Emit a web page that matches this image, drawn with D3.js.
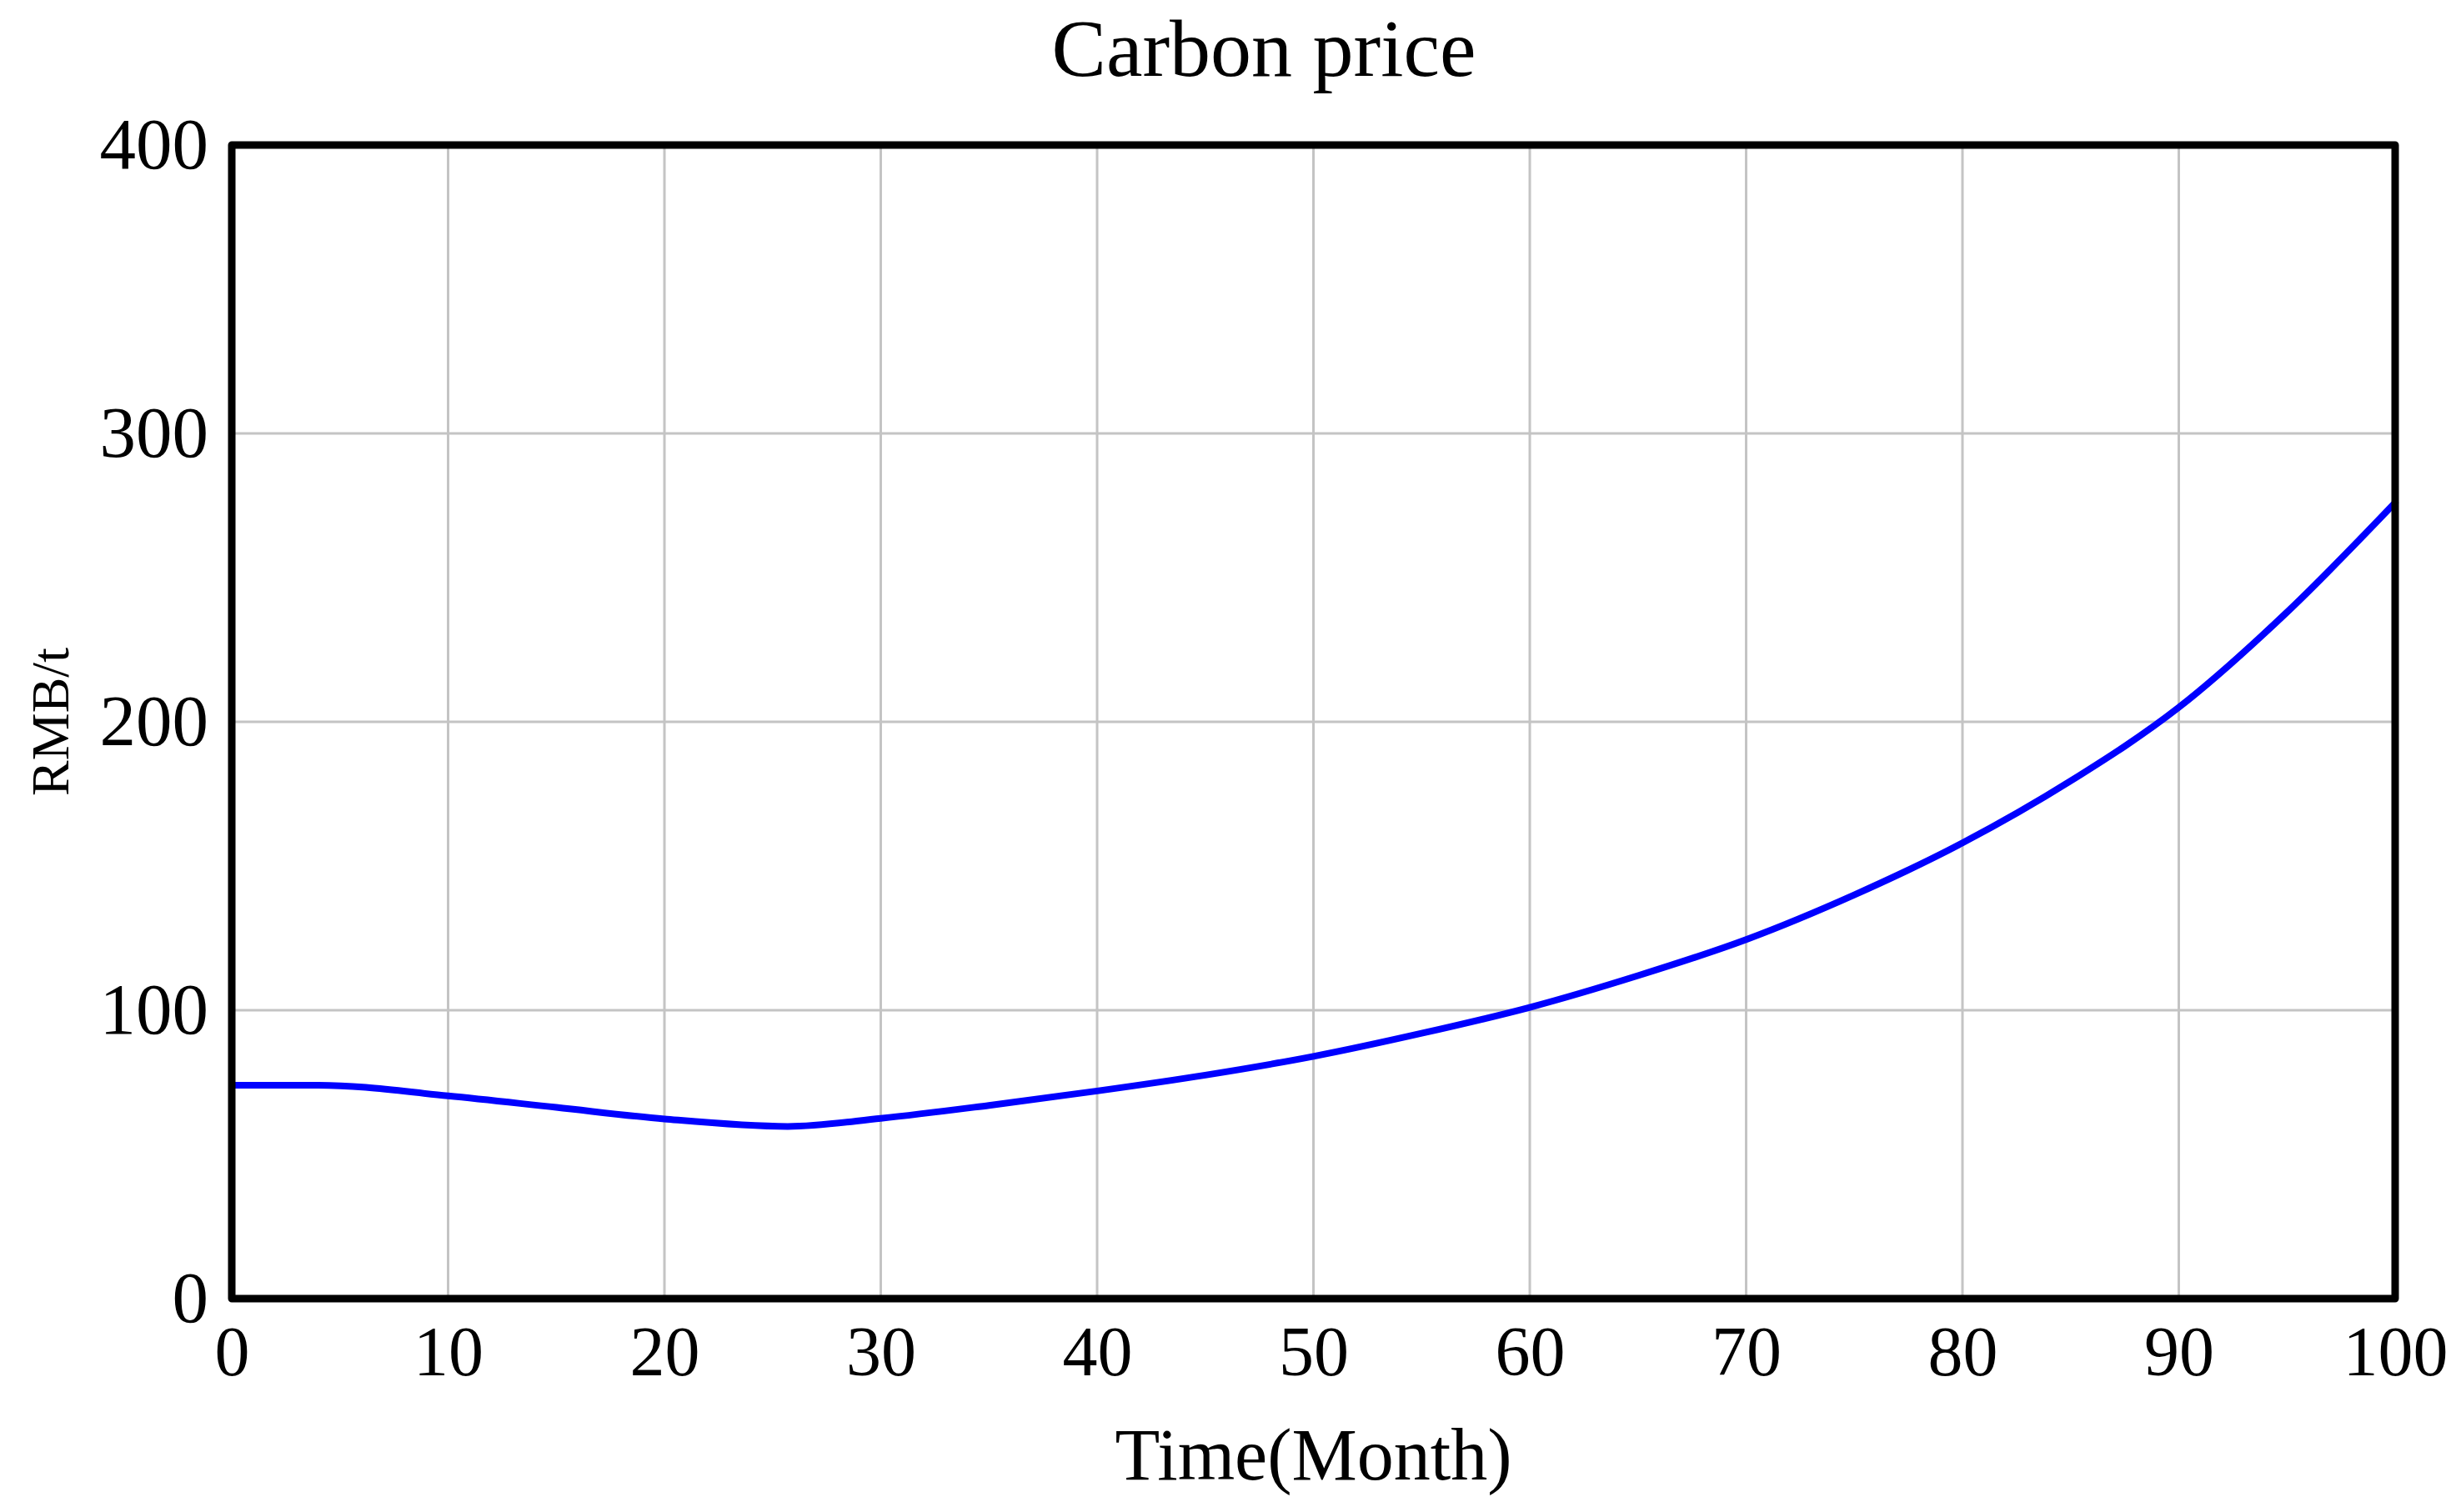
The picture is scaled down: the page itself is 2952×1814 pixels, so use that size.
<!DOCTYPE html>
<html>
<head>
<meta charset="utf-8">
<script src="https://cdn.jsdelivr.net/npm/d3@7"></script>
<style>
  html, body { margin: 0; padding: 0; background: #fff; }
  svg { display: block; }
  text { font-family: "Liberation Serif", "Times New Roman", serif; fill: #000; }
</style>
</head>
<body>
<svg id="chart" width="2952" height="1814"></svg>
<script>
// ---- data ----
const titleText = "Carbon price";
const xLabel = "Time(Month)";
const yLabel = "RMB/t";
const time  = [0, 4, 10, 15, 20, 25.7, 30, 35, 40, 45, 50, 55, 60, 65, 70, 75, 80, 85, 90, 95, 100];
const price = [74, 74, 70.3, 66.3, 62.3, 59.7, 62.5, 67, 72, 77.5, 84, 92, 101, 112, 124.5, 140, 158, 179.5, 205, 238, 276];
const xTicks = [0, 10, 20, 30, 40, 50, 60, 70, 80, 90, 100];
const yTicks = [0, 100, 200, 300, 400];

// ---- layout ----
const svg = d3.select("#chart");
const pL = 278, pR = 2873, pT = 174, pB = 1558;
const W = pR - pL, H = pB - pT;

const x = d3.scaleLinear().domain([0, 100]).range([pL, pR]);
const y = d3.scaleLinear().domain([0, 400]).range([pB, pT]);

// grid
const grid = svg.append("g");
grid.selectAll("line.vx").data(xTicks).join("line")
  .attr("class", "vx")
  .attr("x1", d => x(d)).attr("x2", d => x(d))
  .attr("y1", pT).attr("y2", pB)
  .attr("stroke", "#c4c4c4").attr("stroke-width", 3);
grid.selectAll("line.hy").data(yTicks).join("line")
  .attr("class", "hy")
  .attr("x1", pL).attr("x2", pR)
  .attr("y1", d => y(d)).attr("y2", d => y(d))
  .attr("stroke", "#c4c4c4").attr("stroke-width", 3);

// line
const line = d3.line()
  .x((d, i) => x(time[i]))
  .y(d => y(d))
  .curve(d3.curveMonotoneX);
svg.append("path")
  .datum(price)
  .attr("d", line)
  .attr("fill", "none")
  .attr("stroke", "#0000ff")
  .attr("stroke-width", 8)
  .attr("stroke-linejoin", "round")
  .attr("stroke-linecap", "round");

// frame
svg.append("rect")
  .attr("x", pL).attr("y", pT)
  .attr("width", W).attr("height", H)
  .attr("fill", "none")
  .attr("stroke", "#000")
  .attr("stroke-width", 9)
  .attr("stroke-linejoin", "round");

// axes (labels only)
const xAxis = d3.axisBottom(x).tickValues(xTicks).tickSize(0).tickPadding(32).tickFormat(d3.format("d"));
const gx = svg.append("g").attr("transform", `translate(0,${pB})`).call(xAxis);
gx.select(".domain").remove();
gx.selectAll("text").attr("font-size", 84).attr("font-family", "Liberation Serif").attr("fill", "#000");

const yAxis = d3.axisLeft(y).tickValues(yTicks).tickSize(0).tickPadding(28).tickFormat(d3.format("d"));
const gy = svg.append("g").attr("transform", `translate(${pL},0)`).call(yAxis);
gy.select(".domain").remove();
gy.selectAll("text").attr("font-size", 87).attr("font-family", "Liberation Serif").attr("fill", "#000");

// title
svg.append("text")
  .attr("x", 1516).attr("y", 91)
  .attr("text-anchor", "middle")
  .attr("font-size", 98)
  .text(titleText);

// x label
svg.append("text")
  .attr("x", (pL + pR) / 2).attr("y", 1775)
  .attr("text-anchor", "middle")
  .attr("font-size", 88)
  .text(xLabel);

// y label
svg.append("text")
  .attr("transform", `translate(82,${(pT + pB) / 2}) rotate(-90)`)
  .attr("text-anchor", "middle")
  .attr("font-size", 64)
  .text(yLabel);
</script>
</body>
</html>
